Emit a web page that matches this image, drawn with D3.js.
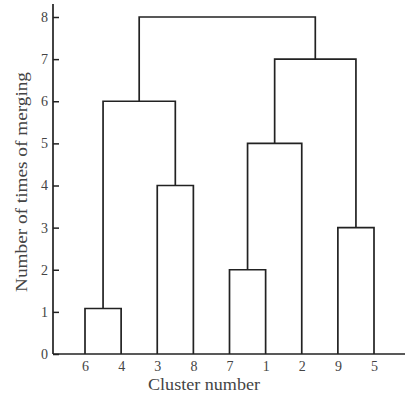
<!DOCTYPE html>
<html>
<head>
<meta charset="utf-8">
<script src="https://cdn.jsdelivr.net/npm/d3@7"></script>
<style>
    body { margin: 0; background: #fff; }
    svg { display: block; }
</style>
</head>
<body>
<div id="chart"></div>
<script>
const width = 405;
const height = 403;

// leaves in drawing order
const leaves = ["6", "4", "3", "8", "7", "1", "2", "9", "5"];
const yTicks = [0, 1, 2, 3, 4, 5, 6, 7, 8];

// merges: ids of the two joined clusters and the level they join at
const mergeIds = ["m1", "m2", "m3", "m4", "m5", "m6", "m7", "m8"];
const mergeLeft = ["6", "3", "m1", "7", "m4", "9", "m5", "m3"];
const mergeRight = ["4", "8", "m2", "1", "2", "5", "m6", "m7"];
const mergeHeight = [1.08, 4, 6, 2, 5, 3, 7, 8];

const axisX = 53;
const axisY = 354;

const svg = d3.select("#chart")
    .append("svg")
    .attr("width", width)
    .attr("height", height);

const x = d3.scalePoint()
    .domain(leaves)
    .range([85, 374]);

const y = d3.scaleLinear()
    .domain([0, 8])
    .range([axisY, 17]);

// position of every node (leaf or cluster)
const pos = {};
leaves.forEach(l => { pos[l] = { x: x(l), h: 0 }; });
mergeIds.forEach((id, i) => {
    const a = pos[mergeLeft[i]];
    const b = pos[mergeRight[i]];
    pos[id] = { x: (a.x + b.x) / 2, h: mergeHeight[i], a: a, b: b };
});

const links = mergeIds.map(id => pos[id]);

svg.selectAll(".link")
    .data(links)
    .enter()
    .append("path")
    .attr("class", "link")
    .attr("fill", "none")
    .attr("stroke", "#222")
    .attr("stroke-width", 1.7)
    .attr("d", d => `M${d.a.x},${y(d.a.h)}V${y(d.h)}H${d.b.x}V${y(d.b.h)}`);

// y axis
const yAxis = svg.append("g")
    .attr("transform", `translate(${axisX},0)`)
    .call(d3.axisLeft(y).tickValues(yTicks).tickFormat(d3.format("d"))
        .tickSizeInner(-6).tickSizeOuter(0).tickPadding(5));
yAxis.select(".domain").remove();
yAxis.selectAll(".tick line").attr("stroke", "#222").attr("stroke-width", 1.5);
yAxis.selectAll(".tick text")
    .style("font-family", "'Liberation Serif', serif")
    .style("font-size", "14px")
    .attr("fill", "#444");

// x axis labels
const xAxis = svg.append("g")
    .attr("transform", `translate(0,${axisY})`)
    .call(d3.axisBottom(x).tickSize(0).tickPadding(7));
xAxis.select(".domain").remove();
xAxis.selectAll(".tick text")
    .style("font-family", "'Liberation Serif', serif")
    .style("font-size", "14px")
    .attr("fill", "#444");

// axis lines
svg.append("line")
    .attr("x1", axisX).attr("x2", axisX)
    .attr("y1", axisY).attr("y2", 4)
    .attr("stroke", "#222").attr("stroke-width", 1.7);
svg.append("line")
    .attr("x1", axisX).attr("x2", width)
    .attr("y1", axisY).attr("y2", axisY)
    .attr("stroke", "#222").attr("stroke-width", 1.7);

svg.append("text")
    .attr("x", 204)
    .attr("y", 390)
    .attr("text-anchor", "middle")
    .attr("textLength", 112)
    .attr("lengthAdjust", "spacingAndGlyphs")
    .style("font-family", "'Liberation Serif', serif")
    .style("font-size", "16px")
    .attr("fill", "#444")
    .text("Cluster number");

svg.append("text")
    .attr("transform", "translate(27,182) rotate(-90)")
    .attr("text-anchor", "middle")
    .attr("textLength", 220)
    .attr("lengthAdjust", "spacingAndGlyphs")
    .style("font-family", "'Liberation Serif', serif")
    .style("font-size", "16px")
    .attr("fill", "#444")
    .text("Number of times of merging");
</script>
</body>
</html>
